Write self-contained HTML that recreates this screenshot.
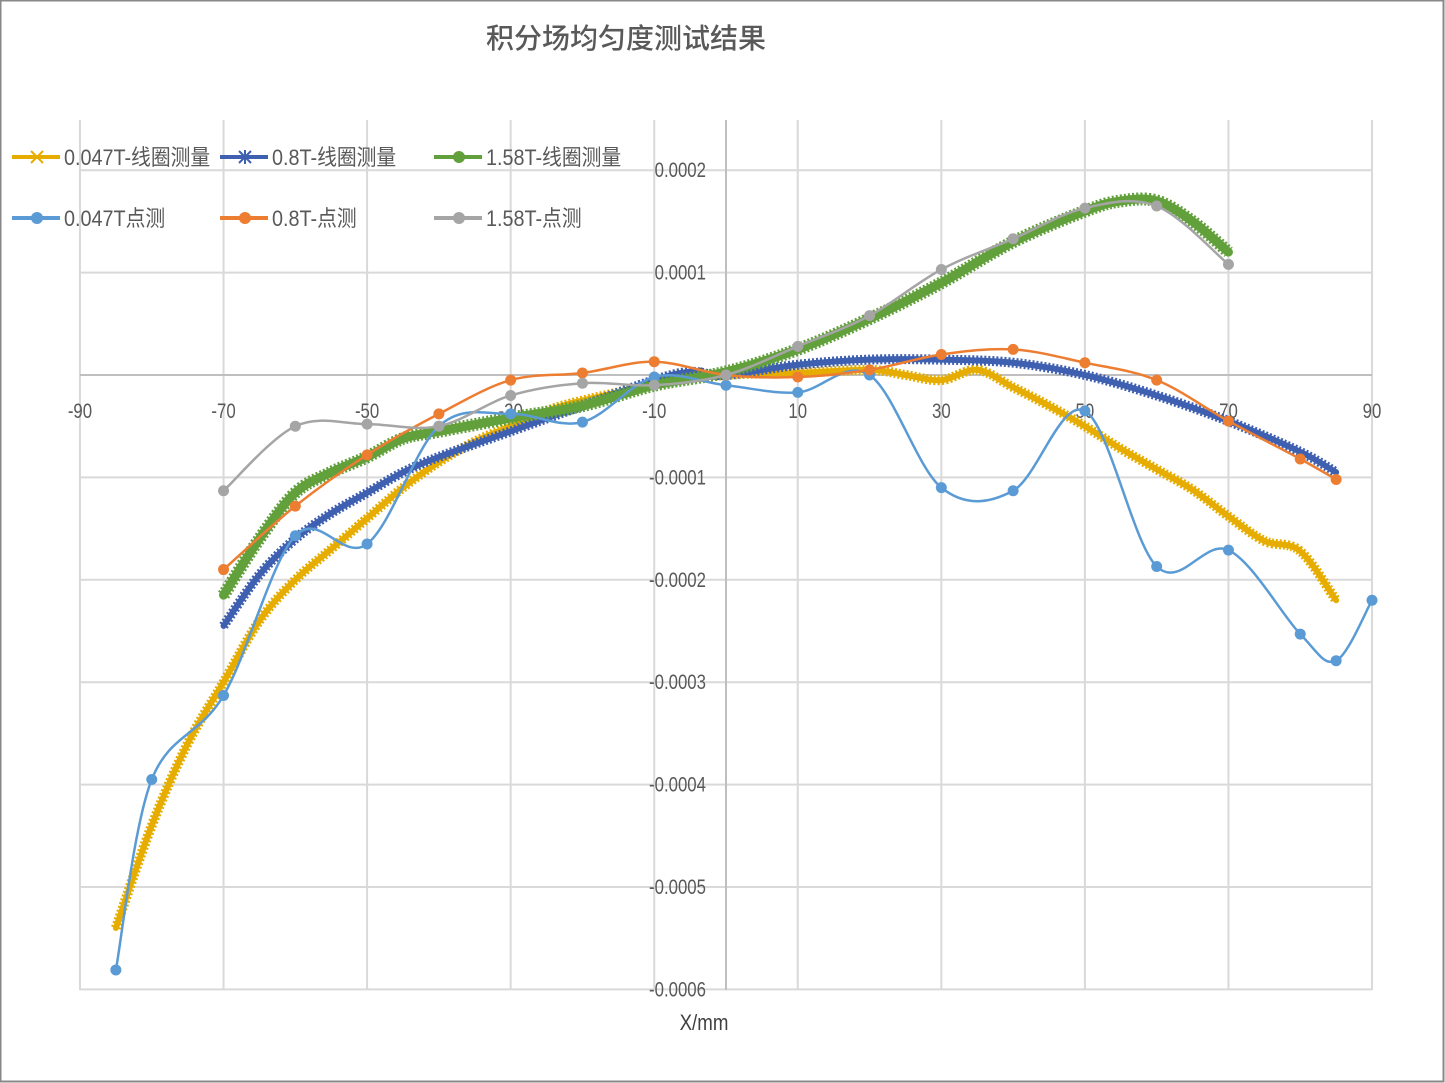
<!DOCTYPE html>
<html><head><meta charset="utf-8"><style>
html,body{margin:0;padding:0;background:#fff;}
svg{display:block;font-family:"Liberation Sans","Noto Sans CJK SC",sans-serif;}
</style></head><body>
<svg id="s" width="1445" height="1083" xmlns="http://www.w3.org/2000/svg">
<rect x="0.5" y="0.5" width="1443" height="1081" fill="#fff" stroke="#888" stroke-width="2"/>
<text x="626" y="48" text-anchor="middle" font-size="28" fill="#595959" font-family="'Noto Sans CJK SC',sans-serif" font-weight="500">积分场均匀度测试结果</text>
<g id="grid"></g>
<g id="series"></g>
<g id="legend"></g>
<text x="704" y="1030" text-anchor="middle" font-size="22" fill="#404040" transform="translate(704 0) scale(0.85 1) translate(-704 0)">X/mm</text>
</svg>
<script>
const NS="http://www.w3.org/2000/svg";
const X=v=>726+v*7.178, Y=v=>375-v*102.4;
function el(p,t,a,txt){const e=document.createElementNS(NS,t);for(const k in a)e.setAttribute(k,a[k]);if(txt!=null)e.textContent=txt;p.appendChild(e);return e;}
const g=document.getElementById('grid');
for(let x=-90;x<=90;x+=20) el(g,'line',{x1:X(x),x2:X(x),y1:120,y2:990,stroke:'#d9d9d9','stroke-width':2});
for(let i=-6;i<=2;i++){ if(i==0)continue; el(g,'line',{x1:80,x2:1372,y1:Y(i),y2:Y(i),stroke:'#d9d9d9','stroke-width':2});}
el(g,'line',{x1:80,x2:1372,y1:375,y2:375,stroke:'#bfbfbf','stroke-width':2});
el(g,'line',{x1:726,x2:726,y1:120,y2:990,stroke:'#bfbfbf','stroke-width':2});
const lab=(x,y,t,anc)=>el(g,'text',{x:x,y:y,'font-size':21,fill:'#595959','text-anchor':anc,transform:`translate(${x} 0) scale(0.8 1) translate(${-x} 0)`},t);
for(let x=-90;x<=90;x+=20) lab(X(x),418,String(x),'middle');
lab(706,382,'0','end');
const yl={2:'0.0002',1:'0.0001','-1':'-0.0001','-2':'-0.0002','-3':'-0.0003','-4':'-0.0004','-5':'-0.0005','-6':'-0.0006'};
for(const k in yl) lab(706,Y(+k)+7,yl[k],'end');
function path(pts){let d=`M${X(pts[0][0])},${Y(pts[0][1])}`;
 for(let i=0;i<pts.length-1;i++){const p0=pts[Math.max(i-1,0)],p1=pts[i],p2=pts[i+1],p3=pts[Math.min(i+2,pts.length-1)];
 const c1=[X(p1[0])+(X(p2[0])-X(p0[0]))/6,Y(p1[1])+(Y(p2[1])-Y(p0[1]))/6],c2=[X(p2[0])-(X(p3[0])-X(p1[0]))/6,Y(p2[1])-(Y(p3[1])-Y(p1[1]))/6];
 d+=` C${c1},${c2} ${X(p2[0])},${Y(p2[1])}`;}return d;}
const s=document.getElementById('series');
function band(pts,col,w){el(s,'path',{d:path(pts),fill:'none',stroke:col,'stroke-width':w-3,'stroke-linejoin':'round','stroke-linecap':'round'});el(s,'path',{d:path(pts),fill:'none',stroke:col,'stroke-width':w+1,'stroke-dasharray':'2 2'});}
function pt(pts,col){el(s,'path',{d:path(pts),fill:'none',stroke:col,'stroke-width':2.5});for(const p of pts)el(s,'circle',{cx:X(p[0]),cy:Y(p[1]),r:5.5,fill:col});}
band([[-85,-5.4],[-80,-4.4],[-75,-3.6],[-70,-3.0],[-65,-2.4],[-60,-2.0],[-55,-1.7],[-50,-1.4],[-45,-1.1],[-40,-0.85],[-35,-0.65],[-30,-0.5],[-25,-0.35],[-20,-0.25],[-10,-0.1],[0,0],[10,0.02],[20,0.05],[25,0],[30,-0.05],[35,0.05],[40,-0.12],[45,-0.3],[50,-0.5],[55,-0.72],[60,-0.92],[65,-1.12],[70,-1.38],[75,-1.62],[80,-1.72],[85,-2.2]],'#E6AD00',9);
band([[-70,-2.45],[-65,-1.95],[-60,-1.6],[-55,-1.35],[-50,-1.15],[-45,-0.95],[-40,-0.8],[-30,-0.55],[-20,-0.3],[-10,-0.05],[-5,0.03],[0,0],[10,0.1],[20,0.15],[30,0.15],[40,0.12],[50,0],[60,-0.2],[70,-0.45],[80,-0.75],[85,-0.95]],'#3F60B0',9);
band([[-70,-2.15],[-65,-1.6],[-60,-1.15],[-55,-0.95],[-50,-0.8],[-45,-0.62],[-40,-0.55],[-30,-0.42],[-20,-0.3],[-10,-0.1],[0,0.03],[10,0.25],[20,0.55],[30,0.9],[40,1.3],[50,1.6],[55,1.7],[60,1.7],[65,1.5],[70,1.2]],'#62A03C',12);
pt([[-85,-5.81],[-80,-3.95],[-70,-3.13],[-60,-1.57],[-50,-1.65],[-40,-0.5],[-30,-0.38],[-20,-0.46],[-10,-0.02],[0,-0.1],[10,-0.17],[20,0],[30,-1.1],[40,-1.13],[50,-0.35],[60,-1.87],[70,-1.71],[80,-2.53],[85,-2.79],[90,-2.2]],'#5B9BD5');
pt([[-70,-1.9],[-60,-1.28],[-50,-0.78],[-40,-0.38],[-30,-0.05],[-20,0.02],[-10,0.13],[0,0],[10,-0.02],[20,0.05],[30,0.2],[40,0.25],[50,0.12],[60,-0.05],[70,-0.45],[80,-0.82],[85,-1.02]],'#ED7D31');
pt([[-70,-1.13],[-60,-0.5],[-50,-0.48],[-40,-0.5],[-30,-0.2],[-20,-0.08],[-10,-0.1],[0,0],[10,0.28],[20,0.58],[30,1.03],[40,1.33],[50,1.63],[60,1.65],[70,1.08]],'#A5A5A5');
const L=document.getElementById('legend');
const items=[[14,157,'#E6AD00','0.047T-线圈测量','x'],[222,157,'#3F60B0','0.8T-线圈测量','*'],[436,157,'#62A03C','1.58T-线圈测量','o'],
[14,218,'#5B9BD5','0.047T点测','o'],[222,218,'#ED7D31','0.8T-点测','o'],[436,218,'#A5A5A5','1.58T-点测','o']];
for(const [x,y,c,t,m] of items){el(L,'line',{x1:x-2,x2:x+46,y1:y,y2:y,stroke:c,'stroke-width':4});
 if(m=='o')el(L,'circle',{cx:x+23,cy:y,r:6,fill:c});
 else{el(L,'path',{d:`M${x+17},${y-6}L${x+29},${y+6}M${x+17},${y+6}L${x+29},${y-6}`+(m=='*'?`M${x+23},${y-7}L${x+23},${y+7}`:''),stroke:c,'stroke-width':2});}
 const tx=x+50;el(L,'text',{x:tx,y:y+8,'font-size':22,fill:'#595959',transform:`translate(${tx} 0) scale(0.9 1) translate(${-tx} 0)`},t);}
</script>
</body></html>
